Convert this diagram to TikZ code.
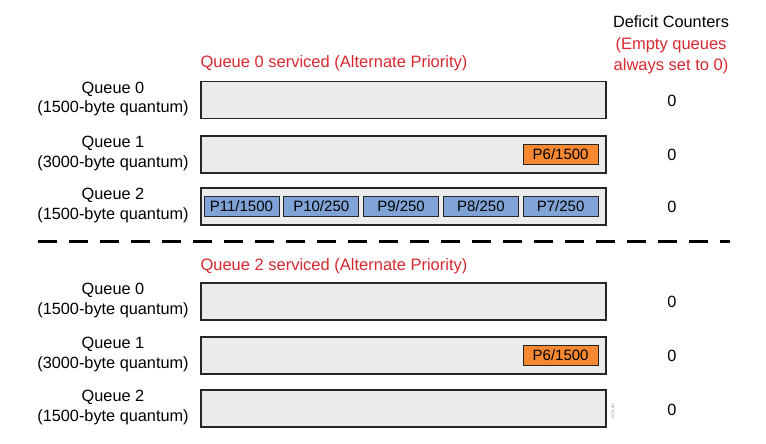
\documentclass[tikz,border=0pt]{standalone}
\usepackage{fontspec}
\setmainfont{Liberation Sans}
\usepackage{xcolor}
\usetikzlibrary{positioning}
\definecolor{boxgray}{HTML}{EBEBEB}
\definecolor{titlered}{HTML}{D7282F}
\definecolor{pktorange}{HTML}{F7882F}
\definecolor{pktblue}{HTML}{7FA3D6}
\tikzset{
  queuebox/.style={draw=black!85,fill=boxgray,line width=1.1pt,minimum width=405pt,minimum height=37pt,inner sep=0pt},
  qlabel/.style={align=center,font=\fontsize{16.3}{20}\selectfont},
  pkt/.style={draw=black!85,line width=0.8pt,minimum width=75pt,minimum height=20pt,inner sep=0pt,font=\fontsize{15}{16}\selectfont},
  counter/.style={font=\fontsize{16.3}{20}\selectfont},
  servtitle/.style={anchor=west,text=titlered,font=\fontsize{16.5}{20}\selectfont}
}
\begin{document}
\begin{tikzpicture}[x=1pt,y=-1pt]
  \useasboundingbox (0,0) rectangle (766,444);
  % header on the right
  \node[counter] (dchead) at (671,22) {Deficit Counters};
  \node[align=center,text=titlered,font=\fontsize{16.5}{21}\selectfont] (dcnote) at (671,56) {(Empty queues\\always set to 0)};
  % upper half: queue 0 serviced
  \node[servtitle] (title0) at (197,63) {Queue 0 serviced (Alternate Priority)};
  \node[queuebox] (qa0) at (403.5,100) {};
  \node[queuebox] (qa1) at (403.5,154.5) {};
  \node[queuebox] (qa2) at (403.5,206.5) {};
  \node[qlabel] (la0) at (113,99) {Queue 0\\(1500-byte quantum)};
  \node[qlabel] (la1) at (113,153) {Queue 1\\(3000-byte quantum)};
  \node[qlabel] (la2) at (113,205) {Queue 2\\(1500-byte quantum)};
  \node[pkt,fill=pktorange,anchor=east] (pa6) at ([xshift=-8pt]qa1.east) {P6/1500};
  \node[pkt,fill=pktblue,anchor=east] (pa7) at ([xshift=-8pt]qa2.east) {P7/250};
  \node[pkt,fill=pktblue,left=4pt of pa7] (pa8) {P8/250};
  \node[pkt,fill=pktblue,left=4pt of pa8] (pa9) {P9/250};
  \node[pkt,fill=pktblue,left=4pt of pa9] (pa10) {P10/250};
  \node[pkt,fill=pktblue,left=4pt of pa10] (pa11) {P11/1500};
  \node[counter] (ca0) at (672,101) {0};
  \node[counter] (ca1) at (672,155) {0};
  \node[counter] (ca2) at (672,207) {0};
  % separator
  \coordinate (sepl) at (38,241);
  \coordinate (sepr) at (730,241);
  \draw[line width=3pt,dash pattern=on 19pt off 12pt] (sepl) -- (sepr);
  % lower half: queue 2 serviced
  \node[servtitle] (title2) at (197,266) {Queue 2 serviced (Alternate Priority)};
  \node[queuebox] (qb0) at (403.5,301.5) {};
  \node[queuebox] (qb1) at (403.5,355.5) {};
  \node[queuebox] (qb2) at (403.5,408.5) {};
  \node[qlabel] (lb0) at (113,300) {Queue 0\\(1500-byte quantum)};
  \node[qlabel] (lb1) at (113,354) {Queue 1\\(3000-byte quantum)};
  \node[qlabel] (lb2) at (113,407) {Queue 2\\(1500-byte quantum)};
  \node[pkt,fill=pktorange,anchor=east] (pb6) at ([xshift=-8pt]qb1.east) {P6/1500};
  \node[counter] (cb0) at (672,302) {0};
  \node[counter] (cb1) at (672,356) {0};
  \node[counter] (cb2) at (672,410) {0};
  \node[rotate=90,text=black!60,font=\fontsize{3}{3}\selectfont] (figid) at (613,411) {01TG\_382};
\end{tikzpicture}
\end{document}
